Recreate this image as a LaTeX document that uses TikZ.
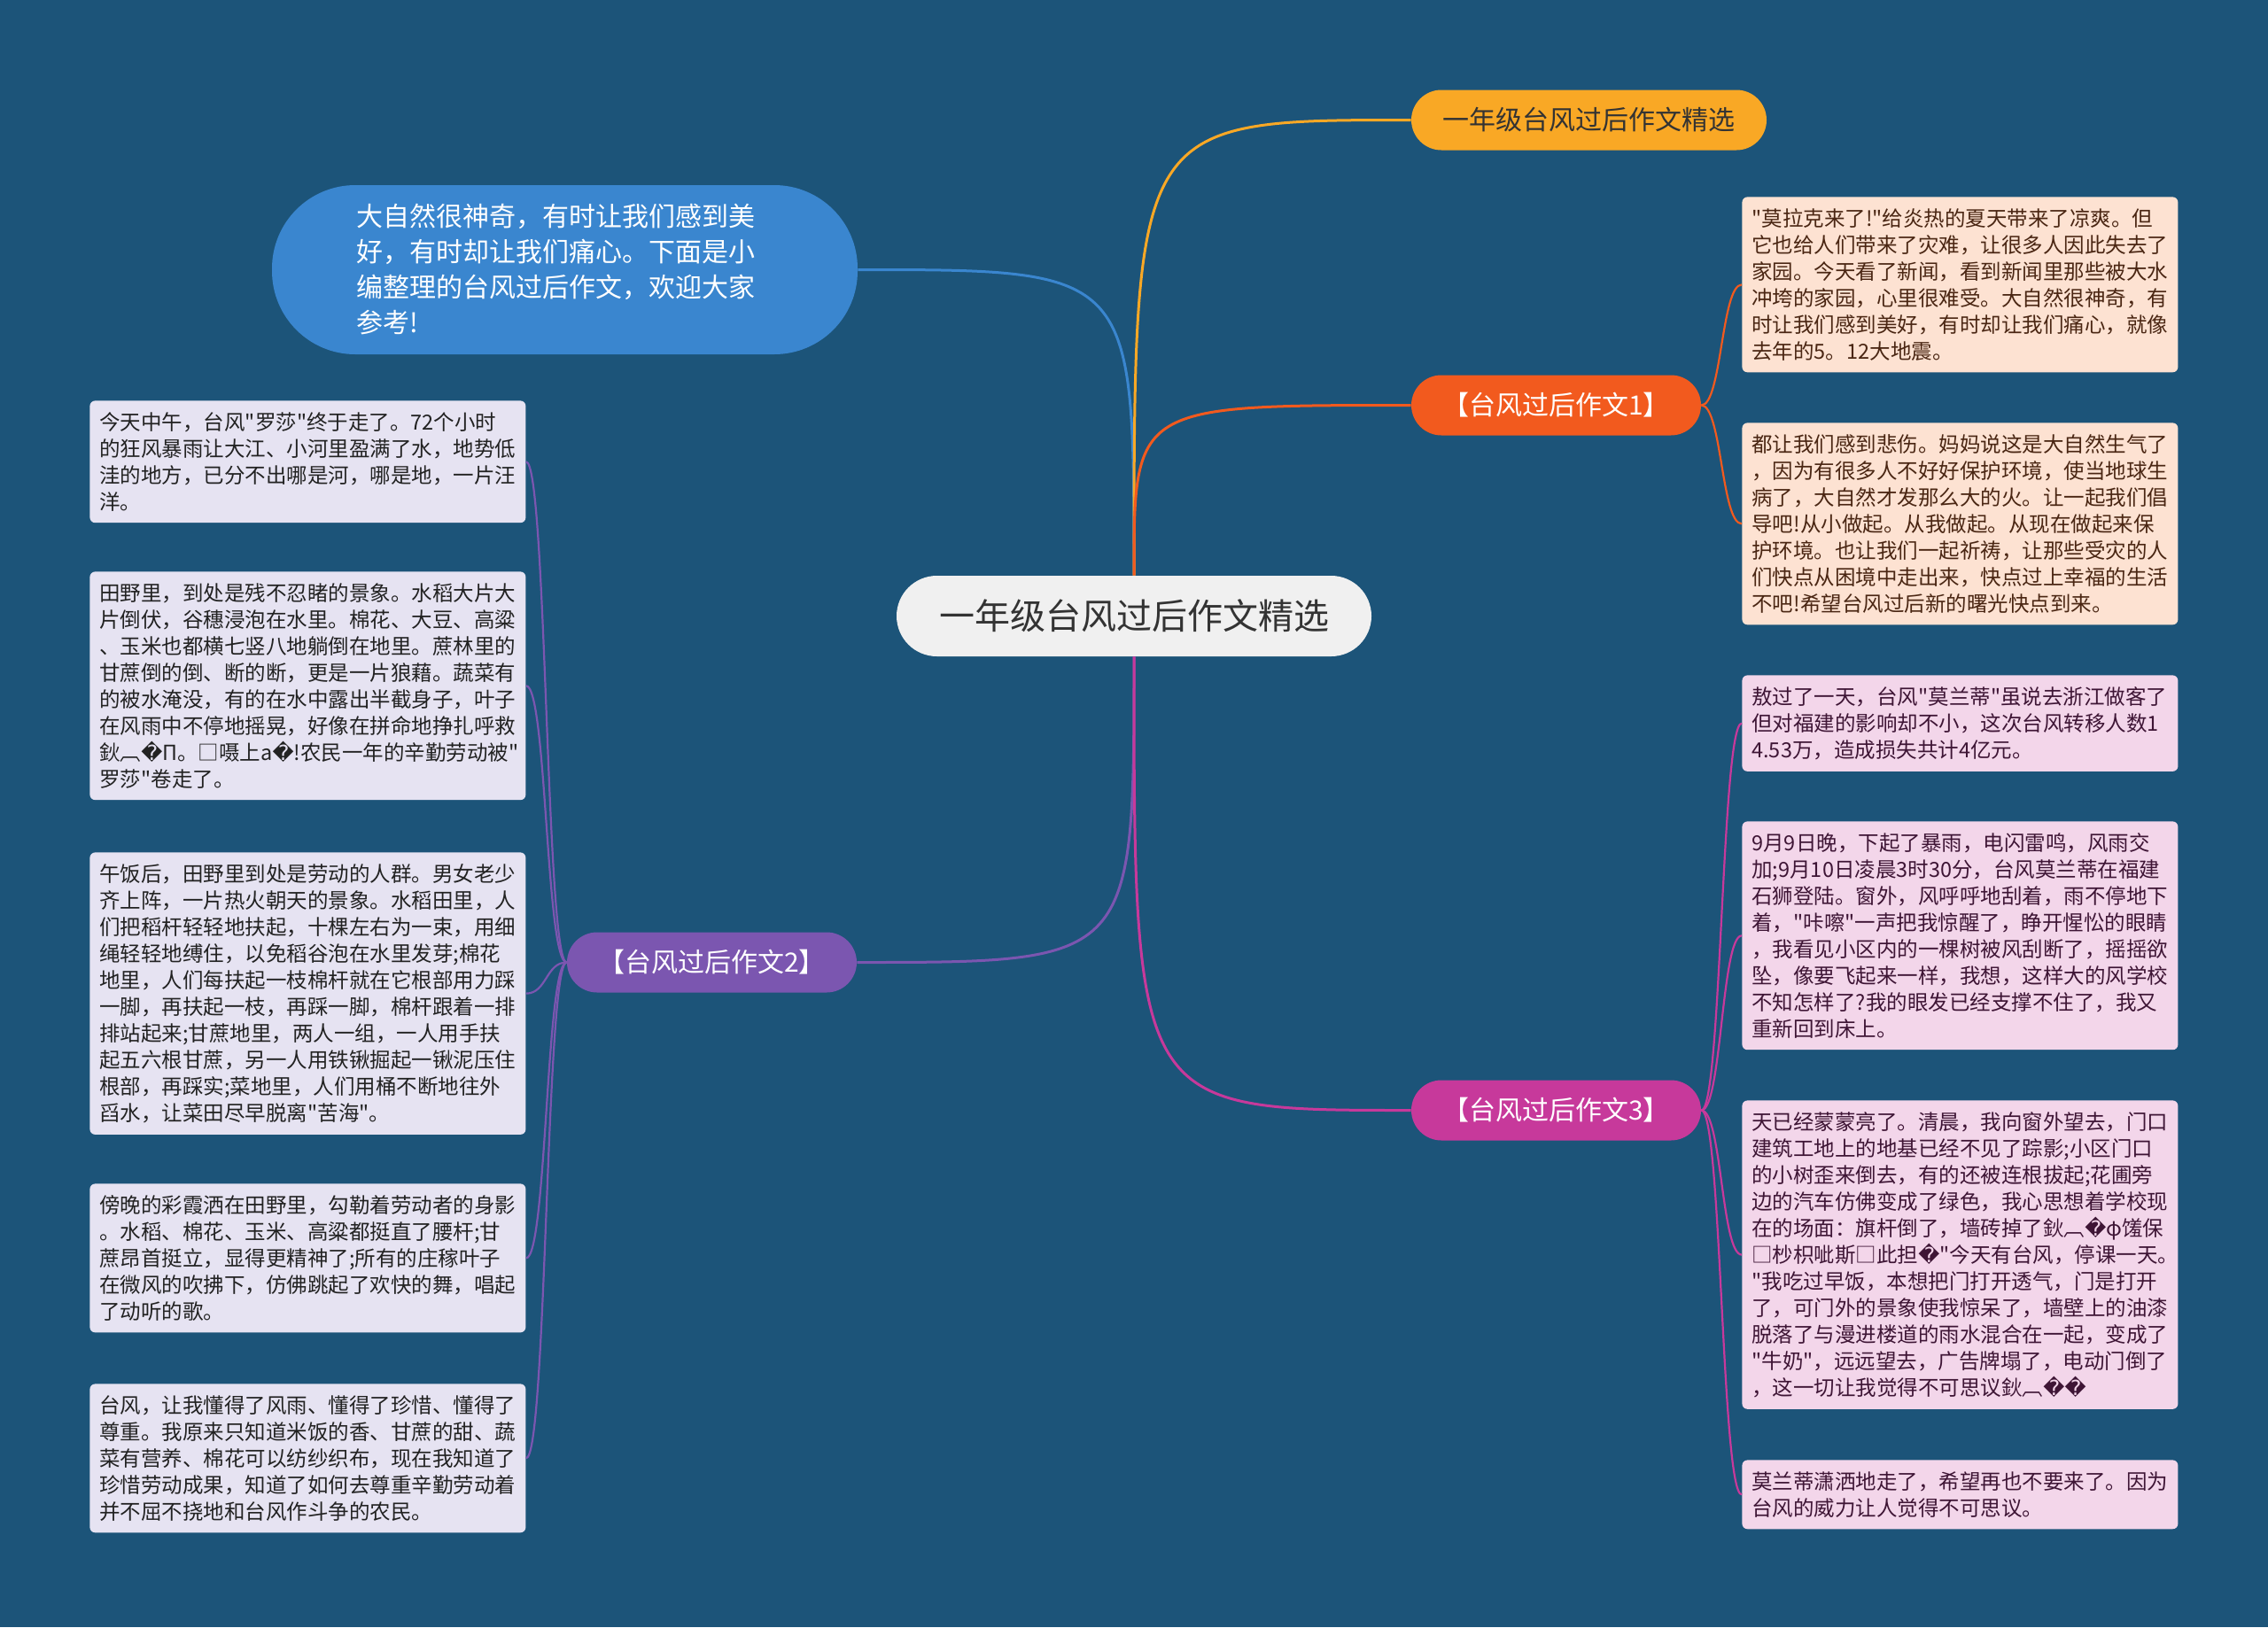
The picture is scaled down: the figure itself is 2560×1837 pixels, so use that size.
\documentclass[tikz,border=0pt]{standalone}
\usepackage{fontspec}
\setmainfont{Noto Sans CJK SC}[Ligatures=TeXOff]
\newfontfamily\dejavu{DejaVu Sans}
\newcommand{\badch}{{\dejavu\symbol{"FFFD}}}
\usepackage{xcolor}
\definecolor{bgblue}{HTML}{1C5479}
\definecolor{rootgrey}{HTML}{F0F0F0}
\definecolor{darktext}{HTML}{333333}
\definecolor{introblue}{HTML}{3A86CF}
\definecolor{selorange}{HTML}{F9A825}
\definecolor{redorange}{HTML}{F25A1E}
\definecolor{purp}{HTML}{7B56B0}
\definecolor{mag}{HTML}{C7399B}
\definecolor{lavender}{HTML}{E6E3F2}
\definecolor{peach}{HTML}{FDE2D2}
\definecolor{pinkleaf}{HTML}{F3D6EA}
\definecolor{lavtext}{HTML}{222222}
\definecolor{peachtext}{HTML}{4A2613}
\definecolor{pinktext}{HTML}{3E1535}

\begin{document}
\begin{tikzpicture}
    [ x=0.5pt, y=-0.5pt
    , topic/.style={rounded corners=17pt, minimum width=163.5pt, minimum height=34pt, inner sep=0pt, font=\fontsize{15pt}{18pt}\selectfont}
    , leaf/.style={anchor=north west, rounded corners=3pt, align=left, text width=235pt, inner xsep=5.5pt, inner ysep=6.5pt, font=\fontsize{11.75pt}{15pt}\selectfont}
    , link/.style={line width=1.5pt}
    , twig/.style={line width=1.1pt}
    ]
\fill[bgblue] (0,0) rectangle (2560,1837);

% centre and first level
\node[fill=rootgrey, text=darktext, rounded corners=22.75pt, minimum width=268pt, minimum height=45.5pt, inner sep=0pt, font=\fontsize{20pt}{24pt}\selectfont] (root) at (1280,695.5) {一年级台风过后作文精选};
\node[fill=introblue, text=white, rounded corners=47pt, minimum width=330.5pt, minimum height=95.5pt, align=left, text width=235.5pt, font=\fontsize{15pt}{20pt}\selectfont] (intro) at (637.5,304.5)
    {大自然很神奇，有时让我们感到美\\好，有时却让我们痛心。下面是小\\编整理的台风过后作文，欢迎大家\\参考!};
\node[topic, fill=selorange, text=darktext, minimum width=200.5pt] (sel) at (1793.5,135.5) {一年级台风过后作文精选};
\node[topic, fill=redorange, text=white] (essay1) at (1756.5,457.5) {【台风过后作文1】};
\node[topic, fill=purp, text=white] (essay2) at (803.5,1086.5) {【台风过后作文2】};
\node[topic, fill=mag, text=white] (essay3) at (1756.5,1253.5) {【台风过后作文3】};

% essay 1
\node[leaf, fill=peach, text=peachtext] (a1) at (1966,222)
    {"莫拉克来了!"给炎热的夏天带来了凉爽。但\\它也给人们带来了灾难，让很多人因此失去了\\家园。今天看了新闻，看到新闻里那些被大水\\冲垮的家园，心里很难受。大自然很神奇，有\\时让我们感到美好，有时却让我们痛心，就像\\去年的5。12大地震。};
\node[leaf, fill=peach, text=peachtext] (a2) at (1966,477)
    {都让我们感到悲伤。妈妈说这是大自然生气了\\，因为有很多人不好好保护环境，使当地球生\\病了，大自然才发那么大的火。让一起我们倡\\导吧!从小做起。从我做起。从现在做起来保\\护环境。也让我们一起祈祷，让那些受灾的人\\们快点从困境中走出来，快点过上幸福的生活\\不吧!希望台风过后新的曙光快点到来。};

% essay 2
\node[leaf, fill=lavender, text=lavtext] (b1) at (101,452)
    {今天中午，台风"罗莎"终于走了。72个小时\\的狂风暴雨让大江、小河里盈满了水，地势低\\洼的地方，已分不出哪是河，哪是地，一片汪\\洋。};
\node[leaf, fill=lavender, text=lavtext] (b2) at (101,645)
    {田野里，到处是残不忍睹的景象。水稻大片大\\片倒伏，谷穗浸泡在水里。棉花、大豆、高粱\\、玉米也都横七竖八地躺倒在地里。蔗林里的\\甘蔗倒的倒、断的断，更是一片狼藉。蔬菜有\\的被水淹没，有的在水中露出半截身子，叶子\\在风雨中不停地摇晃，好像在拼命地挣扎呼救\\鈥︹\badch Π。□嗫上a\badch!农民一年的辛勤劳动被"\\罗莎"卷走了。};
\node[leaf, fill=lavender, text=lavtext] (b3) at (101,962)
    {午饭后，田野里到处是劳动的人群。男女老少\\齐上阵，一片热火朝天的景象。水稻田里，人\\们把稻杆轻轻地扶起，十棵左右为一束，用细\\绳轻轻地缚住，以免稻谷泡在水里发芽;棉花\\地里，人们每扶起一枝棉杆就在它根部用力踩\\一脚，再扶起一枝，再踩一脚，棉杆跟着一排\\排站起来;甘蔗地里，两人一组，一人用手扶\\起五六根甘蔗，另一人用铁锹掘起一锹泥压住\\根部，再踩实;菜地里，人们用桶不断地往外\\舀水，让菜田尽早脱离"苦海"。};
\node[leaf, fill=lavender, text=lavtext] (b4) at (101,1336)
    {傍晚的彩霞洒在田野里，勾勒着劳动者的身影\\。水稻、棉花、玉米、高粱都挺直了腰杆;甘\\蔗昂首挺立，显得更精神了;所有的庄稼叶子\\在微风的吹拂下，仿佛跳起了欢快的舞，唱起\\了动听的歌。};
\node[leaf, fill=lavender, text=lavtext] (b5) at (101,1562)
    {台风，让我懂得了风雨、懂得了珍惜、懂得了\\尊重。我原来只知道米饭的香、甘蔗的甜、蔬\\菜有营养、棉花可以纺纱织布，现在我知道了\\珍惜劳动成果，知道了如何去尊重辛勤劳动着\\并不屈不挠地和台风作斗争的农民。};

% essay 3
\node[leaf, fill=pinkleaf, text=pinktext] (c1) at (1966,762)
    {敖过了一天，台风"莫兰蒂"虽说去浙江做客了\\但对福建的影响却不小，这次台风转移人数1\\4.53万，造成损失共计4亿元。};
\node[leaf, fill=pinkleaf, text=pinktext] (c2) at (1966,927)
    {9月9日晚，下起了暴雨，电闪雷鸣，风雨交\\加;9月10日凌晨3时30分，台风莫兰蒂在福建\\石狮登陆。窗外，风呼呼地刮着，雨不停地下\\着，"咔嚓"一声把我惊醒了，睁开惺忪的眼睛\\，我看见小区内的一棵树被风刮断了，摇摇欲\\坠，像要飞起来一样，我想，这样大的风学校\\不知怎样了?我的眼发已经支撑不住了，我又\\重新回到床上。};
\node[leaf, fill=pinkleaf, text=pinktext] (c3) at (1966,1242)
    {天已经蒙蒙亮了。清晨，我向窗外望去，门口\\建筑工地上的地基已经不见了踪影;小区门口\\的小树歪来倒去，有的还被连根拔起;花圃旁\\边的汽车仿佛变成了绿色，我心思想着学校现\\在的场面：旗杆倒了，墙砖掉了鈥︹\badch φ馐保\\□杪枳呲斯□此担\badch"今天有台风，停课一天。\\"我吃过早饭，本想把门打开透气，门是打开\\了，可门外的景象使我惊呆了，墙壁上的油漆\\脱落了与漫进楼道的雨水混合在一起，变成了\\"牛奶"，远远望去，广告牌塌了，电动门倒了\\，这一切让我觉得不可思议鈥︹\badch\badch};
\node[leaf, fill=pinkleaf, text=pinktext] (c4) at (1966,1648)
    {莫兰蒂潇洒地走了，希望再也不要来了。因为\\台风的威力让人觉得不可思议。};

% connectors
\draw[link, introblue] (root.north) .. controls (root.north |- intro.east) .. (intro.east);
\draw[link, selorange] (root.north) .. controls (root.north |- sel.west) .. (sel.west);
\draw[link, redorange] (root.north) .. controls (root.north |- essay1.west) .. (essay1.west);
\draw[link, purp] (root.south) .. controls (root.south |- essay2.east) .. (essay2.east);
\draw[link, mag] (root.south) .. controls (root.south |- essay3.west) .. (essay3.west);

\foreach \n in {a1,a2}
  \draw[twig, redorange] (essay1.east) .. controls +(23,0) and +(-23,0) .. (\n.west);
\foreach \n in {b1,b2,b3,b4,b5}
  \draw[twig, purp] (essay2.west) .. controls +(-23.5,0) and +(23.5,0) .. (\n.east);
\foreach \n in {c1,c2,c3,c4}
  \draw[twig, mag] (essay3.east) .. controls +(23,0) and +(-23,0) .. (\n.west);

\end{tikzpicture}
\end{document}
